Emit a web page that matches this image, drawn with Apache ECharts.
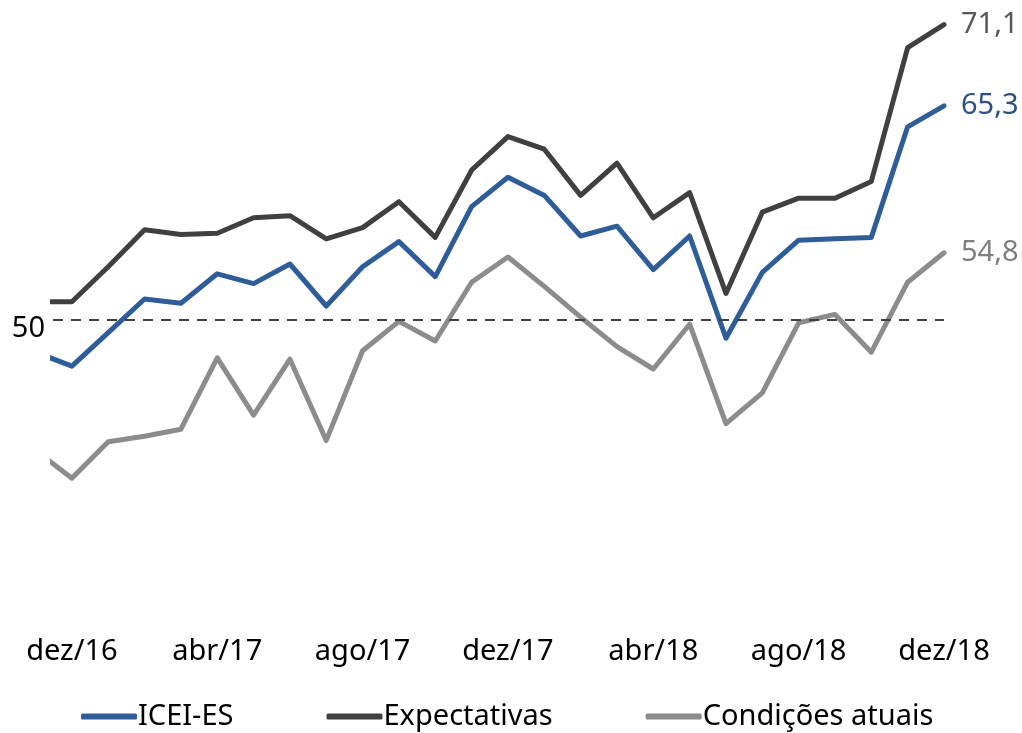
<!DOCTYPE html>
<html>
<head>
<meta charset="utf-8">
<script src="https://cdn.jsdelivr.net/npm/echarts@6/dist/echarts.min.js"></script>
<style>
  html, body { margin: 0; padding: 0; background: #fff; }
  #chart { width: 1022px; height: 733px; }
</style>
</head>
<body>
<div id="chart"></div>
<script>
// months from nov/16 to dez/18 (first one is partly cut off by the plot edge)
const months = [
    "nov/16", "dez/16", "jan/17", "fev/17", "mar/17", "abr/17", "mai/17", "jun/17",
    "jul/17", "ago/17", "set/17", "out/17", "nov/17", "dez/17", "jan/18", "fev/18",
    "mar/18", "abr/18", "mai/18", "jun/18", "jul/18", "ago/18", "set/18", "out/18",
    "nov/18", "dez/18"
];

const icei = [
    47.7, 46.7, 49.1, 51.5, 51.2, 53.3, 52.6, 54.0, 51.0, 53.8, 55.6, 53.1, 58.1,
    60.2, 58.9, 56.0, 56.7, 53.6, 56.0, 48.7, 53.4, 55.7, 55.8, 55.9, 63.8, 65.3
];

const expectativas = [
    51.3, 51.3, 53.8, 56.45, 56.1, 56.2, 57.3, 57.45, 55.8, 56.6, 58.45, 55.9, 60.7,
    63.1, 62.2, 58.9, 61.2, 57.3, 59.1, 51.9, 57.7, 58.7, 58.7, 59.9, 69.45, 71.1
];

const condicoes = [
    40.7, 38.7, 41.3, 41.7, 42.2, 47.3, 43.2, 47.2, 41.4, 47.8, 49.9, 48.5, 52.7,
    54.5, 52.4, 50.2, 48.1, 46.5, 49.7, 42.6, 44.8, 49.8, 50.4, 47.7, 52.7, 54.8
];

// x positions: dez/16 = 0, so nov/16 = -1
const xTicks = [0, 4, 8, 12, 16, 20, 24];

const toPoints = (arr) => arr.map((v, i) => [i - 1, v]);
const fmt = (v) => v.toFixed(1).replace(".", ",");

const chart = echarts.init(document.getElementById("chart"));

const font = "'Noto Sans', 'Open Sans', sans-serif";

const makeSeries = (name, values, color, labelColor) => ({
    name: name,
    type: "line",
    data: toPoints(values),
    symbol: "none",
    clip: true,
    lineStyle: { color: color, width: 5, cap: "round", join: "round" },
    itemStyle: { color: color },
    endLabel: {
        show: true,
        distance: 17,
        color: labelColor,
        fontSize: 29,
        fontFamily: font,
        formatter: (p) => fmt(p.value[1]),
    },
    emphasis: { disabled: true },
});

const series = [
    makeSeries("ICEI-ES", icei, "#2E5D9A", "#2B5282"),
    makeSeries("Expectativas", expectativas, "#404040", "#595959"),
    makeSeries("Condições atuais", condicoes, "#8C8C8C", "#7F7F7F"),
];

// dashed reference line at 50
series[0].markLine = {
    silent: true,
    symbol: "none",
    label: { show: false },
    lineStyle: { color: "#404040", type: [10, 8], width: 2 },
    data: [{ yAxis: 50 }],
};

const option = {
    animation: false,
    grid: { left: 53, right: 78, top: 12, bottom: 133 },
    legend: {
        bottom: -3,
        left: 76,
        itemGap: 93,
        itemWidth: 56,
        itemHeight: 6,
        icon: "roundRect",
        textStyle: { fontSize: 29, fontFamily: font, color: "#000", padding: [0, 0, 0, -4] },
        data: ["ICEI-ES", "Expectativas", "Condições atuais"],
    },
    xAxis: {
        type: "value",
        min: -0.52,
        max: 24,
        axisLine: { show: false },
        axisTick: { show: false },
        splitLine: { show: false },
        axisLabel: {
            customValues: xTicks,
            margin: 37,
            fontSize: 29,
            fontFamily: font,
            color: "#000",
            formatter: (v) => months[v + 1],
        },
    },
    yAxis: {
        type: "value",
        min: 30,
        max: 72,
        axisLine: { show: false },
        axisTick: { show: false },
        splitLine: { show: false },
        axisLabel: {
            customValues: [50],
            margin: 8,
            fontSize: 29,
            fontFamily: font,
            color: "#000",
            verticalAlign: "top",
            padding: [-6, 0, 0, 0],
        },
    },
    series: series,
};

chart.setOption(option);
</script>
</body>
</html>
